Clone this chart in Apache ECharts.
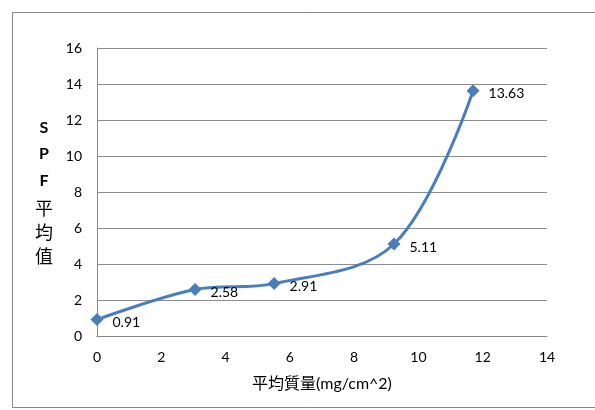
<!DOCTYPE html>
<html>
<head>
<meta charset="utf-8">
<script src="https://cdn.jsdelivr.net/npm/echarts@6/dist/echarts.min.js"></script>
<style>
  html, body { margin: 0; padding: 0; background: #fff; }
  #chart { width: 595px; height: 410px; }
</style>
</head>
<body>
<div id="chart"></div>
<script>
// Average mass (mg/cm^2) and the matching mean SPF values
const massValues = [0, 3.05, 5.51, 9.24, 11.70];
const spfValues = [0.91, 2.58, 2.91, 5.11, 13.63];
const spfLabels = ['0.91', '2.58', '2.91', '5.11', '13.63'];

const xAxisTitle = '平均質量(mg/cm^2)';
const yAxisTitleLines = ['S', 'P', 'F', '平', '均', '值'];

const points = massValues.map((m, i) => [m, spfValues[i]]);
const font = 'Lato, "Open Sans", "Noto Sans CJK TC", sans-serif';
const blue = '#4a7ebb';

const chart = echarts.init(document.getElementById('chart'), null, { renderer: 'canvas' });

// vertical axis title, one character per row
const titleRowY = [128, 154, 181, 209, 233, 257];
const yTitleGraphics = yAxisTitleLines.map((t, i) => ({
  type: 'text',
  x: 44,
  y: titleRowY[i],
  style: {
    text: t,
    font: (i < 3 ? 'bold 16px ' : '18px ') + font,
    fill: '#000',
    textAlign: 'center',
    textVerticalAlign: 'middle'
  }
}));

chart.setOption({
  animation: false,
  backgroundColor: '#fff',
  grid: { left: 97, right: 48, top: 48, bottom: 74 },
  graphic: [
    {
      type: 'rect',
      shape: { x: 12.5, y: 12.5, width: 590, height: 395 },
      style: { fill: 'none', stroke: '#868686', lineWidth: 1 },
      silent: true
    }
  ].concat(yTitleGraphics),
  xAxis: {
    type: 'value',
    min: 0,
    max: 14,
    interval: 2,
    name: xAxisTitle,
    nameLocation: 'middle',
    nameGap: 40,
    nameTextStyle: { fontFamily: font, fontSize: 16, color: '#000' },
    axisLine: { show: true, onZero: false, lineStyle: { color: '#868686', width: 1 } },
    axisTick: { show: false },
    axisLabel: { fontFamily: font, fontSize: 14, color: '#000', margin: 14 },
    splitLine: { show: false }
  },
  yAxis: {
    type: 'value',
    min: 0,
    max: 16,
    interval: 2,
    axisLine: { show: true, lineStyle: { color: '#868686', width: 1 } },
    axisTick: { show: false },
    axisLabel: { fontFamily: font, fontSize: 14, color: '#000', margin: 15 },
    splitLine: { show: true, lineStyle: { color: '#8e8e8e', width: 1 } }
  },
  series: [{
    type: 'line',
    data: points,
    smooth: 0.35,
    symbol: 'diamond',
    symbolSize: 13,
    lineStyle: { color: blue, width: 3 },
    itemStyle: { color: blue },
    label: {
      show: true,
      position: 'right',
      distance: 9,
      offset: [0, 3],
      fontFamily: font,
      fontSize: 14,
      color: '#000',
      formatter: p => spfLabels[p.dataIndex]
    }
  }]
});
</script>
</body>
</html>
